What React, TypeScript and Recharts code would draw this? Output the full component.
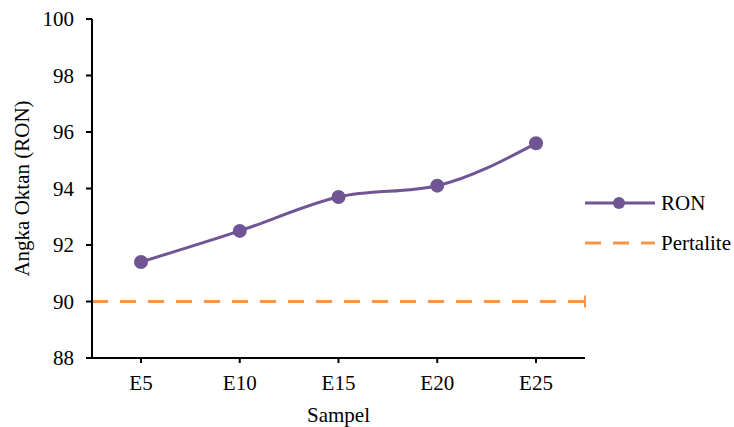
import React from "react";
import {
  LineChart,
  Line,
  XAxis,
  YAxis,
  ReferenceLine,
  Legend,
} from "recharts";

const samples = ["E5", "E10", "E15", "E20", "E25"];
const ronValues = [91.4, 92.5, 93.7, 94.1, 95.6];
const pertaliteRon = 90;
const yTicks = [88, 90, 92, 94, 96, 98, 100];

const PURPLE = "#705595";
const ORANGE = "#F79646";
const FONT = '"Liberation Serif", "DejaVu Serif", serif';
const textStyle = { fontFamily: FONT, fontSize: 21, fill: "#000" };

const rows = samples.map((sample, i) => ({ sample, ron: ronValues[i] }));

function YLabel(props: any) {
  const vb = props.viewBox || {};
  const cx = 22;
  const cy = vb.y + vb.height / 2;
  return (
    <text
      x={cx}
      y={cy}
      transform={`rotate(-90 ${cx} ${cy})`}
      textAnchor="middle"
      dominantBaseline="central"
      style={textStyle}
    >
      Angka Oktan (RON)
    </text>
  );
}

function LineEndCap(props: any) {
  const vb = props.viewBox || {};
  const x = vb.x + vb.width;
  return <line x1={x} x2={x} y1={vb.y - 6} y2={vb.y + 6} stroke={ORANGE} strokeWidth={2} />;
}

function LegendBox() {
  return (
    <svg width={150} height={80} style={{ display: "block" }}>
      <line x1={0} x2={70} y1={20} y2={20} stroke={PURPLE} strokeWidth={3} />
      <circle cx={34} cy={20} r={6} fill={PURPLE} />
      <text x={76} y={20} dominantBaseline="central" style={textStyle}>
        RON
      </text>
      <line
        x1={0}
        x2={70}
        y1={60}
        y2={60}
        stroke={ORANGE}
        strokeWidth={3}
        strokeDasharray="16 12"
      />
      <text x={76} y={60} dominantBaseline="central" style={textStyle}>
        Pertalite
      </text>
    </svg>
  );
}

export default function App() {
  return (
    <div
      style={{
        position: "absolute",
        left: 0,
        top: 0,
        width: 734,
        height: 427,
        background: "#fff",
        fontFamily: FONT,
      }}
    >
      <LineChart
        width={734}
        height={427}
        data={rows}
        margin={{ top: 19, right: 149, bottom: 0, left: 0 }}
        style={{ fontFamily: FONT }}
      >
        <XAxis
          dataKey="sample"
          height={69}
          padding={{ left: 49, right: 49 }}
          axisLine={{ stroke: "#000", strokeWidth: 2 }}
          tickLine={{ stroke: "#000", strokeWidth: 2 }}
          tickSize={5}
          tickMargin={12}
          tick={{ ...textStyle, style: textStyle }}
          label={{
            value: "Sampel",
            position: "insideBottom",
            offset: 5,
            style: textStyle,
          }}
        />
        <YAxis
          width={92}
          domain={[88, 100]}
          ticks={yTicks}
          interval={0}
          axisLine={{ stroke: "#000", strokeWidth: 2 }}
          tickLine={{ stroke: "#000", strokeWidth: 2 }}
          tickSize={6}
          tickMargin={12}
          tick={{ ...textStyle, style: textStyle }}
          label={<YLabel />}
        />
        <ReferenceLine
          y={pertaliteRon}
          stroke={ORANGE}
          strokeWidth={3}
          strokeDasharray="16 12"
          label={<LineEndCap />}
        />
        <Line
          type="monotone"
          dataKey="ron"
          name="RON"
          stroke={PURPLE}
          strokeWidth={3}
          dot={{ r: 7, fill: PURPLE, stroke: PURPLE, strokeWidth: 0 }}
          activeDot={false}
          isAnimationActive={false}
        />
        <Legend
          layout="vertical"
          align="center"
          verticalAlign="middle"
          wrapperStyle={{ left: 585, top: 183, width: 150 }}
          content={() => <LegendBox />}
        />
      </LineChart>
    </div>
  );
}
